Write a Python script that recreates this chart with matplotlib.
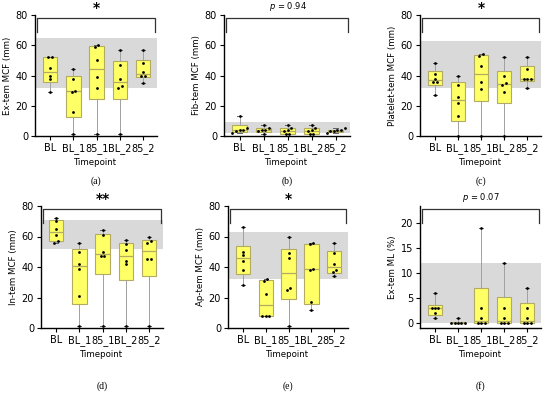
import numpy as np
import matplotlib
matplotlib.use("Agg")
import matplotlib.pyplot as plt

plt.rcParams.update({"font.family": "DejaVu Sans", "font.size": 7})

timepoints = ["BL", "BL_1", "85_1", "BL_2", "85_2"]

extem_mcf = [[52, 52, 45, 40, 38, 29],
             [44, 38, 30, 29, 16, 1],
             [60, 59, 50, 39, 32, 1],
             [57, 47, 38, 33, 32, 1],
             [57, 48, 42, 40, 40, 35]]
fibtem_mcf = [[13, 5, 4, 4, 3, 2],
              [7, 5, 4, 4, 3, 1],
              [7, 5, 4, 3, 1, 1],
              [7, 5, 4, 3, 1, 1],
              [5, 4, 4, 3, 3, 2]]
plttem_mcf = [[48, 41, 38, 36, 36, 27],
              [40, 34, 26, 22, 13, 0],
              [54, 53, 46, 36, 31, 0],
              [52, 40, 35, 34, 29, 0],
              [52, 44, 38, 38, 38, 32]]
intem_mcf = [[72, 70, 65, 61, 57, 56],
             [56, 50, 42, 39, 21, 1],
             [64, 61, 50, 47, 47, 1],
             [58, 55, 51, 44, 42, 1],
             [60, 57, 56, 45, 45, 1]]
aptem_mcf = [[66, 50, 48, 44, 38, 28],
             [32, 31, 22, 8, 8, 8],
             [60, 49, 46, 26, 25, 1],
             [56, 55, 39, 38, 17, 12],
             [56, 49, 42, 38, 37, 34]]
extem_ml = [[6, 3, 3, 3, 2, 1],
            [1, 0, 0, 0, 0, 0],
            [19, 3, 1, 0, 0, 0],
            [12, 3, 1, 0, 0, 0],
            [7, 3, 1, 0, 0, 0]]

ylabels = ["Ex-tem MCF (mm)", "Fib-tem MCF (mm)", "Platelet-tem MCF (mm)",
           "In-tem MCF (mm)", "Ap-tem MCF (mm)", "Ex-tem ML (%)"]
ref_ranges = [(32, 65), (2, 9), (32, 63), (52, 71), (32, 63), (0, 12)]
sig_labels = ["*", "$p$ = 0.94", "*", "**", "*", "$p$ = 0.07"]
letters = ["(a)", "(b)", "(c)", "(d)", "(e)", "(f)"]
datasets = [extem_mcf, fibtem_mcf, plttem_mcf, intem_mcf, aptem_mcf, extem_ml]

# axes rectangles in pixels: left, right, top, bottom (550x396)
rects = [(35, 157, 15, 136), (224, 350, 15, 136), (420, 541, 15, 136),
         (41, 163, 206, 328), (228, 348, 206, 328), (420, 541, 206, 328)]

W, H = 550, 396
fig = plt.figure(figsize=(5.5, 3.96), dpi=100)

BOX_FILL = "#ffff66"
BOX_EDGE = "#b3ab62"
WHISK = "#a0a0a0"


def box_stats(vals):
    # Prism-style quartiles, whiskers min to max
    v = np.asarray(vals, dtype=float)
    q1, med, q3 = np.percentile(v, [25, 50, 75], method="weibull")
    return dict(med=med, q1=q1, q3=q3, whislo=v.min(), whishi=v.max(), fliers=[])


def spread(vals, tol, step=0.15):
    # push points with (nearly) equal values side by side
    vals = np.asarray(vals, dtype=float)
    order = np.argsort(vals)
    offs = np.zeros(len(vals))
    groups, cur = [], [order[0]]
    for i in order[1:]:
        if vals[i] - vals[cur[-1]] <= tol:
            cur.append(i)
        else:
            groups.append(cur)
            cur = [i]
    groups.append(cur)
    for g in groups:
        n = len(g)
        for k, i in enumerate(g):
            offs[i] = (k - (n - 1) / 2) * step
    return offs


for idx, data in enumerate(datasets):
    l, r, t, b = rects[idx]
    ax = fig.add_axes([l / W, 1 - b / H, (r - l) / W, (b - t) / H])
    ymax = 80 if idx != 5 else 23.4
    ymin = 0 if idx != 5 else -0.9
    lo, hi = ref_ranges[idx]
    ax.axhspan(lo, hi, color="#d9d9d9", zorder=0, lw=0)

    pos = np.arange(len(timepoints))
    ax.bxp([box_stats(v) for v in data], positions=pos, widths=0.62,
           showfliers=False, patch_artist=True,
           boxprops=dict(facecolor=BOX_FILL, edgecolor=BOX_EDGE, lw=0.8),
           medianprops=dict(color=BOX_EDGE, lw=0.9),
           whiskerprops=dict(color=WHISK, lw=0.7),
           capprops=dict(color="#606060", lw=0.7), capwidths=0.18,
           zorder=2)
    tol = 0.015 * (ymax - ymin)
    for p, vals in zip(pos, data):
        offs = spread(vals, tol)
        ax.scatter(p + offs, vals, s=4, color="black", zorder=4, clip_on=False,
                   linewidths=0)

    ax.set_xlim(-0.65, 4.6)
    ax.set_ylim(ymin, ymax)
    if idx == 5:
        ax.set_yticks([0, 5, 10, 15, 20])
    else:
        ax.set_yticks([0, 20, 40, 60, 80])
    ax.set_xticks(pos)
    ax.set_xticklabels(timepoints)
    ax.set_xlabel("Timepoint", labelpad=3, fontsize=6.2)
    ax.set_ylabel(ylabels[idx], labelpad=3, fontsize=6.2)
    for s in ["top", "right"]:
        ax.spines[s].set_visible(False)
    ax.spines["left"].set_linewidth(1.0)
    ax.spines["bottom"].set_linewidth(1.0)
    ax.tick_params(length=3, width=0.8, pad=2, labelsize=7)

    # significance bracket
    span = ymax - ymin
    ytop = ymin + 0.975 * span
    ydrop = ymin + 0.86 * span
    ax.plot([-0.55, -0.55, 4.5, 4.5], [ydrop, ytop, ytop, ydrop], color="#333333",
            lw=0.9, clip_on=False, zorder=5)
    lab = sig_labels[idx]
    if lab.startswith("*"):
        ax.text(2, ymin + 1.0 * span, lab, ha="center", va="bottom", fontsize=10,
                fontweight="bold", clip_on=False)
    else:
        ax.text(2, ymin + 1.02 * span, lab, ha="center", va="bottom", fontsize=6,
                clip_on=False)

    cx = (l + (r - l) / 2) / W
    ly = 181 if idx < 3 else 386
    fig.text(cx, 1 - ly / H, letters[idx], ha="center", va="center",
             fontsize=7, family="Liberation Serif")

fig.savefig("out.png", dpi=100)
